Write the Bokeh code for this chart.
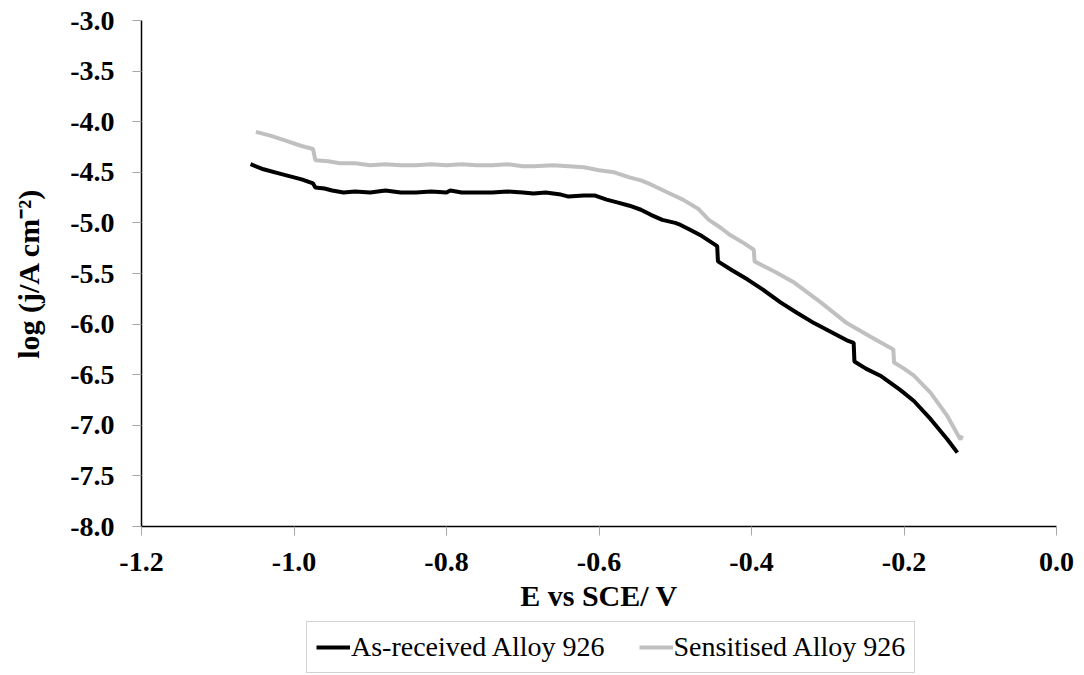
from bokeh.plotting import figure
from bokeh.models import Range1d, FixedTicker, PrintfTickFormatter, Legend, LegendItem
from bokeh.embed import file_html
from bokeh.resources import INLINE

# As-received Alloy 926
e_asrec = [-1.057, -1.04, -1.02, -1.00, -0.99, -0.975, -0.972, -0.96, -0.95, -0.935,
           -0.92, -0.90, -0.88, -0.86, -0.84, -0.82, -0.80, -0.795, -0.78, -0.76,
           -0.74, -0.72, -0.70, -0.686, -0.67, -0.65, -0.64, -0.62, -0.605, -0.59,
           -0.575, -0.56, -0.545, -0.532, -0.517, -0.50, -0.493, -0.48, -0.465, -0.455,
           -0.445, -0.444, -0.425, -0.405, -0.385, -0.362, -0.34, -0.318, -0.295, -0.275,
           -0.266, -0.265, -0.25, -0.231, -0.205, -0.187, -0.165, -0.143, -0.13]
logj_asrec = [-4.42, -4.47, -4.51, -4.55, -4.57, -4.61, -4.65, -4.66, -4.68, -4.70,
              -4.69, -4.70, -4.68, -4.70, -4.70, -4.69, -4.70, -4.68, -4.70, -4.70,
              -4.70, -4.69, -4.70, -4.71, -4.70, -4.72, -4.74, -4.73, -4.73, -4.77,
              -4.80, -4.83, -4.87, -4.92, -4.97, -5.00, -5.02, -5.07, -5.13, -5.18,
              -5.23, -5.38, -5.47, -5.56, -5.66, -5.785, -5.89, -5.99, -6.08, -6.16,
              -6.185, -6.37, -6.44, -6.51, -6.65, -6.76, -6.94, -7.14, -7.27]

# Sensitised Alloy 926
e_sens = [-1.05, -1.03, -1.01, -0.99, -0.975, -0.972, -0.955, -0.94, -0.92, -0.90,
          -0.88, -0.86, -0.84, -0.82, -0.80, -0.78, -0.76, -0.74, -0.72, -0.70,
          -0.686, -0.66, -0.64, -0.62, -0.60, -0.58, -0.56, -0.545, -0.532, -0.51,
          -0.49, -0.47, -0.456, -0.44, -0.428, -0.41, -0.397, -0.396, -0.37, -0.344,
          -0.31, -0.275, -0.245, -0.214, -0.213, -0.20, -0.187, -0.165, -0.143, -0.126,
          -0.124]
logj_sens = [-4.10, -4.14, -4.19, -4.24, -4.27, -4.38, -4.39, -4.41, -4.41, -4.43,
             -4.42, -4.43, -4.43, -4.42, -4.43, -4.42, -4.43, -4.43, -4.42, -4.44,
             -4.44, -4.43, -4.44, -4.45, -4.48, -4.50, -4.55, -4.58, -4.62, -4.70,
             -4.77, -4.86, -4.97, -5.05, -5.12, -5.20, -5.265, -5.38, -5.48, -5.59,
             -5.78, -5.99, -6.12, -6.25, -6.38, -6.44, -6.51, -6.68, -6.91, -7.14,
             -7.10]

x_ticks = [-1.2, -1.0, -0.8, -0.6, -0.4, -0.2, 0.0]
y_ticks = [-8.0, -7.5, -7.0, -6.5, -6.0, -5.5, -5.0, -4.5, -4.0, -3.5, -3.0]
series_names = ["As-received Alloy 926", "Sensitised Alloy 926"]

FONT = "Liberation Serif"

# Axis box: x=-1.2 at 141px, x=0.0 at 1056px; y=-3 at 20px, y=-8 at 526px.
# The frame covers the whole canvas so that labels and legend are never clipped.
X_MIN, X_MAX = -1.2, 0.0
Y_TOP, Y_AXIS = -3.0, -8.0
xpx = 915 / (X_MAX - X_MIN)
ypx = 506 / (Y_TOP - Y_AXIS)
x_start = X_MIN - 141 / xpx
x_end = X_MAX + 28 / xpx
y_start = Y_TOP - 655 / ypx
y_end = Y_TOP + 20 / ypx

p = figure(frame_width=1084, frame_height=675, output_backend="svg", toolbar_location=None,
           x_range=Range1d(x_start, x_end), y_range=Range1d(y_start, y_end),
           min_border_left=0, min_border_right=0, min_border_top=0,
           min_border_bottom=0)
p.outline_line_color = None
p.xgrid.visible = False
p.ygrid.visible = False
p.background_fill_color = "white"
p.border_fill_color = "white"

r1 = p.line(e_asrec, logj_asrec, line_color="black", line_width=4)
r2 = p.line(e_sens, logj_sens, line_color="#c0c0c0", line_width=4)

for ax, ticks in ((p.xaxis[0], x_ticks), (p.yaxis[0], y_ticks)):
    ax.ticker = FixedTicker(ticks=ticks)
    ax.formatter = PrintfTickFormatter(format="%.1f")
    ax.minor_tick_line_color = None
    ax.major_tick_in = 0
    ax.major_tick_out = 9
    ax.major_tick_line_color = "#a6a6a6"
    ax.axis_line_color = "black"
    ax.axis_line_width = 1.5
    ax.major_label_text_font = FONT
    ax.major_label_text_font_style = "bold"
    ax.major_label_text_font_size = "28px"
    ax.major_label_text_color = "black"
    ax.axis_label_text_font = FONT
    ax.axis_label_text_font_style = "bold"
    ax.axis_label_text_font_size = "30px"
    ax.axis_label_text_color = "black"

p.xaxis.fixed_location = Y_AXIS
p.xaxis.bounds = (X_MIN, X_MAX)
p.yaxis.fixed_location = X_MIN
p.yaxis.bounds = (Y_AXIS, Y_TOP)
p.xaxis.axis_label = "E vs SCE/ V"
p.yaxis.axis_label = "log (j/A cm⁻²)"
p.xaxis.major_label_standoff = 17
p.xaxis.axis_label_standoff = 5
p.yaxis.major_label_standoff = 18
p.yaxis.axis_label_standoff = 22

legend = Legend(items=[LegendItem(label=series_names[0], renderers=[r1]),
                       LegendItem(label=series_names[1], renderers=[r2])],
                orientation="horizontal", location=(306, 2))
legend.label_text_font = FONT
legend.label_text_font_size = "28px"
legend.label_text_color = "black"
legend.border_line_color = "#a6a6a6"
legend.border_line_width = 1
legend.padding = 9
legend.spacing = 34
legend.margin = 0
legend.glyph_width = 34
legend.label_standoff = 1
legend.background_fill_alpha = 1
p.add_layout(legend, "center")

open("out.html", "w").write(file_html(p, INLINE))
